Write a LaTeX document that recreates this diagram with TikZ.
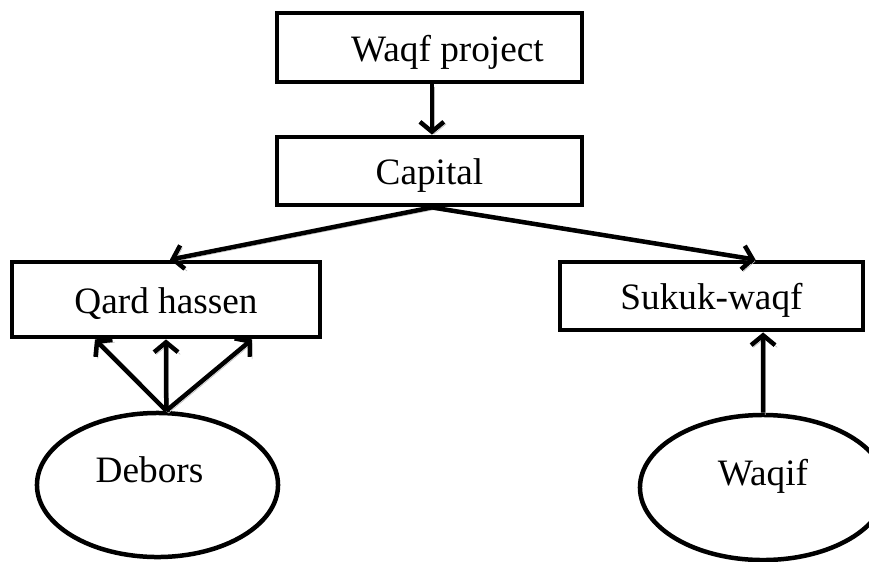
\documentclass[tikz,border=0pt]{standalone}
\usepackage{fontspec}
\setmainfont{Liberation Serif}
\usetikzlibrary{arrows.meta,shapes.geometric}

\begin{document}
\begin{tikzpicture}[
  x=0.025cm,y=-0.025cm,
  lbl/.style={font=\fontsize{26.5}{30}\selectfont},
  box/.style={lbl,rectangle,draw,line width=3.4pt,inner sep=0pt,text height=19.5pt,text depth=0pt},
  oval/.style={lbl,ellipse,draw,line width=3.2pt,inner sep=0pt,text depth=22pt},
  link/.style={line width=3.2pt,-{Straight Barb[length=7pt,width=17pt]},
    preaction={draw=gray!55,transform canvas={shift={(1.6pt,-1.6pt)}}}},
]
\useasboundingbox (0,0) rectangle (869,561);

% ---- boxes --------------------------------------------------------------
\node[box,minimum width=7.625cm,minimum height=1.725cm] (proj) at (429.5,47.5) {\hspace*{0.9cm}Waqf project};
\node[box,minimum width=7.625cm,minimum height=1.7cm]   (cap)  at (429.5,171)  {Capital};
\node[box,minimum width=7.7cm,minimum height=1.875cm]   (qard) at (166,299.5)  {Qard hassen};
\node[box,minimum width=7.575cm,minimum height=1.7cm]   (suk)  at (711.5,296)  {Sukuk-waqf};

% ---- ovals --------------------------------------------------------------
\node[oval,minimum width=6.025cm,minimum height=3.6cm]  (deb) at (157.5,485) {\hspace*{-0.4cm}Debors};
\node[oval,minimum width=6.15cm,minimum height=3.625cm] (waq) at (763,487.5) {Waqif};

% ---- arrows -------------------------------------------------------------
\draw[link] ([xshift=0.06cm]proj.south) -- ([xshift=0.06cm]cap.north);
\draw[link] ([xshift=0.06cm]cap.south) -- ([xshift=0.1cm]qard.north);
\draw[link] ([xshift=0.06cm]cap.south) -- ([xshift=1.1cm]suk.north);
\foreach \dx in {-1.775cm,0cm,2.15cm}
  \draw[link] ([xshift=0.22cm]deb.north) -- ([xshift=\dx]qard.south);
\draw[link] (waq.north) -- ([xshift=1.29cm]suk.south);

\end{tikzpicture}
\end{document}
